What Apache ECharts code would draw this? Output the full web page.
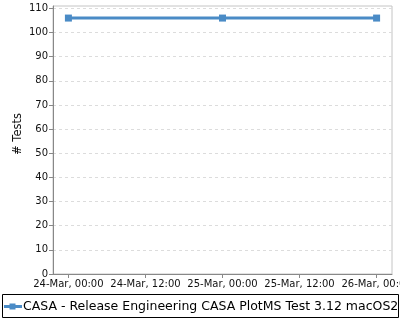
<!DOCTYPE html>
<html>
<head>
<meta charset="utf-8">
<script src="https://cdn.jsdelivr.net/npm/echarts@6/dist/echarts.min.js"></script>
<style>html,body{margin:0;padding:0;background:#fff}#c{width:400px;height:320px}</style>
</head>
<body>
<div id="c"></div>
<script>
var seriesName = 'CASA - Release Engineering CASA PlotMS Test 3.12 macOS26';
var yTitle = '# Tests';
var times = ['2025-03-24T00:00:00Z', '2025-03-25T00:00:00Z', '2025-03-26T00:00:00Z'];
var tests = [106, 106, 106];
var xTickTimes = ['2025-03-24T00:00:00Z', '2025-03-24T12:00:00Z', '2025-03-25T00:00:00Z', '2025-03-25T12:00:00Z', '2025-03-26T00:00:00Z'];
var yTicks = [0, 10, 20, 30, 40, 50, 60, 70, 80, 90, 100, 110];
var months = ['Jan','Feb','Mar','Apr','May','Jun','Jul','Aug','Sep','Oct','Nov','Dec'];

var H = 3600 * 1000;
var base = Date.parse(xTickTimes[0]);
function toH(t) { return (Date.parse(t) - base) / H; }
var xTickVals = xTickTimes.map(toH);
var xMin = xTickVals[0] - 2.4;
var xMax = xTickVals[xTickVals.length - 1] + 2.4;
function pad(n) { return (n < 10 ? '0' : '') + n; }
function fmt(v) {
  var d = new Date(base + v * H);
  return pad(d.getUTCDate()) + '-' + months[d.getUTCMonth()] + ', ' + pad(d.getUTCHours()) + ':' + pad(d.getUTCMinutes());
}
var color = '#4a8bc6';
var font = 'DejaVu Sans';
var chart = echarts.init(document.getElementById('c'), null, {renderer: 'canvas'});
chart.setOption({
  animation: false,
  textStyle: {fontFamily: font},
  grid: {left: 53, right: 8, top: 6, bottom: 46, containLabel: false, outerBoundsMode: 'none',
         show: true, borderColor: '#c4c4c4', borderWidth: 1, backgroundColor: '#fff'},
  xAxis: {
    type: 'value', min: xMin, max: xMax,
    axisLine: {show: true, onZero: false, lineStyle: {color: '#888', width: 1}},
    axisTick: {show: true, length: 4, lineStyle: {color: '#888'}, customValues: xTickVals},
    axisLabel: {customValues: xTickVals, formatter: function (v) { return fmt(v); }, color: '#111', fontSize: 10, fontFamily: font, margin: 5, hideOverlap: false},
    splitLine: {show: false}
  },
  yAxis: {
    type: 'value', min: 0, max: 111, interval: 10,
    axisLine: {show: true, onZero: false, lineStyle: {color: '#888', width: 1}},
    axisTick: {show: true, length: 4, lineStyle: {color: '#888'}, customValues: yTicks},
    axisLabel: {customValues: yTicks, color: '#111', fontSize: 10, fontFamily: font, margin: 5},
    splitLine: {show: true, lineStyle: {color: '#dcdcdc', type: [3, 3], width: 1}}
  },
  legend: {
    show: true, left: 4, top: 300, itemWidth: 18, itemHeight: 6, itemGap: 4,
    padding: 0,
    textStyle: {fontSize: 12.5, color: '#000', fontFamily: font, padding: [0, 0, 0, -4]},
    data: [{name: seriesName, icon: 'path://M0,1.5h5.5v-1.5h6v1.5h6.5v3h-6.5v1.5h-6v-1.5h-5.5z'}]
  },
  graphic: [{
    type: 'rect', shape: {x: 2.5, y: 294.5, width: 396, height: 23},
    style: {fill: 'none', stroke: '#000', lineWidth: 1}, z: 100
  }, {
    type: 'rect', shape: {x: 399, y: 294, width: 1, height: 26},
    style: {fill: '#fff'}, z: 99
  }, {
    type: 'text', x: 18, y: 134, rotation: Math.PI / 2,
    style: {text: yTitle, fill: '#111', font: '11.5px "DejaVu Sans"', align: 'center', verticalAlign: 'middle'}
  }],
  series: [{
    name: seriesName, type: 'line',
    data: times.map(function (t, i) { return [toH(t), tests[i]]; }),
    lineStyle: {color: color, width: 3},
    itemStyle: {color: color},
    symbol: 'rect', symbolSize: 7, showSymbol: true
  }]
});
</script>
</body>
</html>
